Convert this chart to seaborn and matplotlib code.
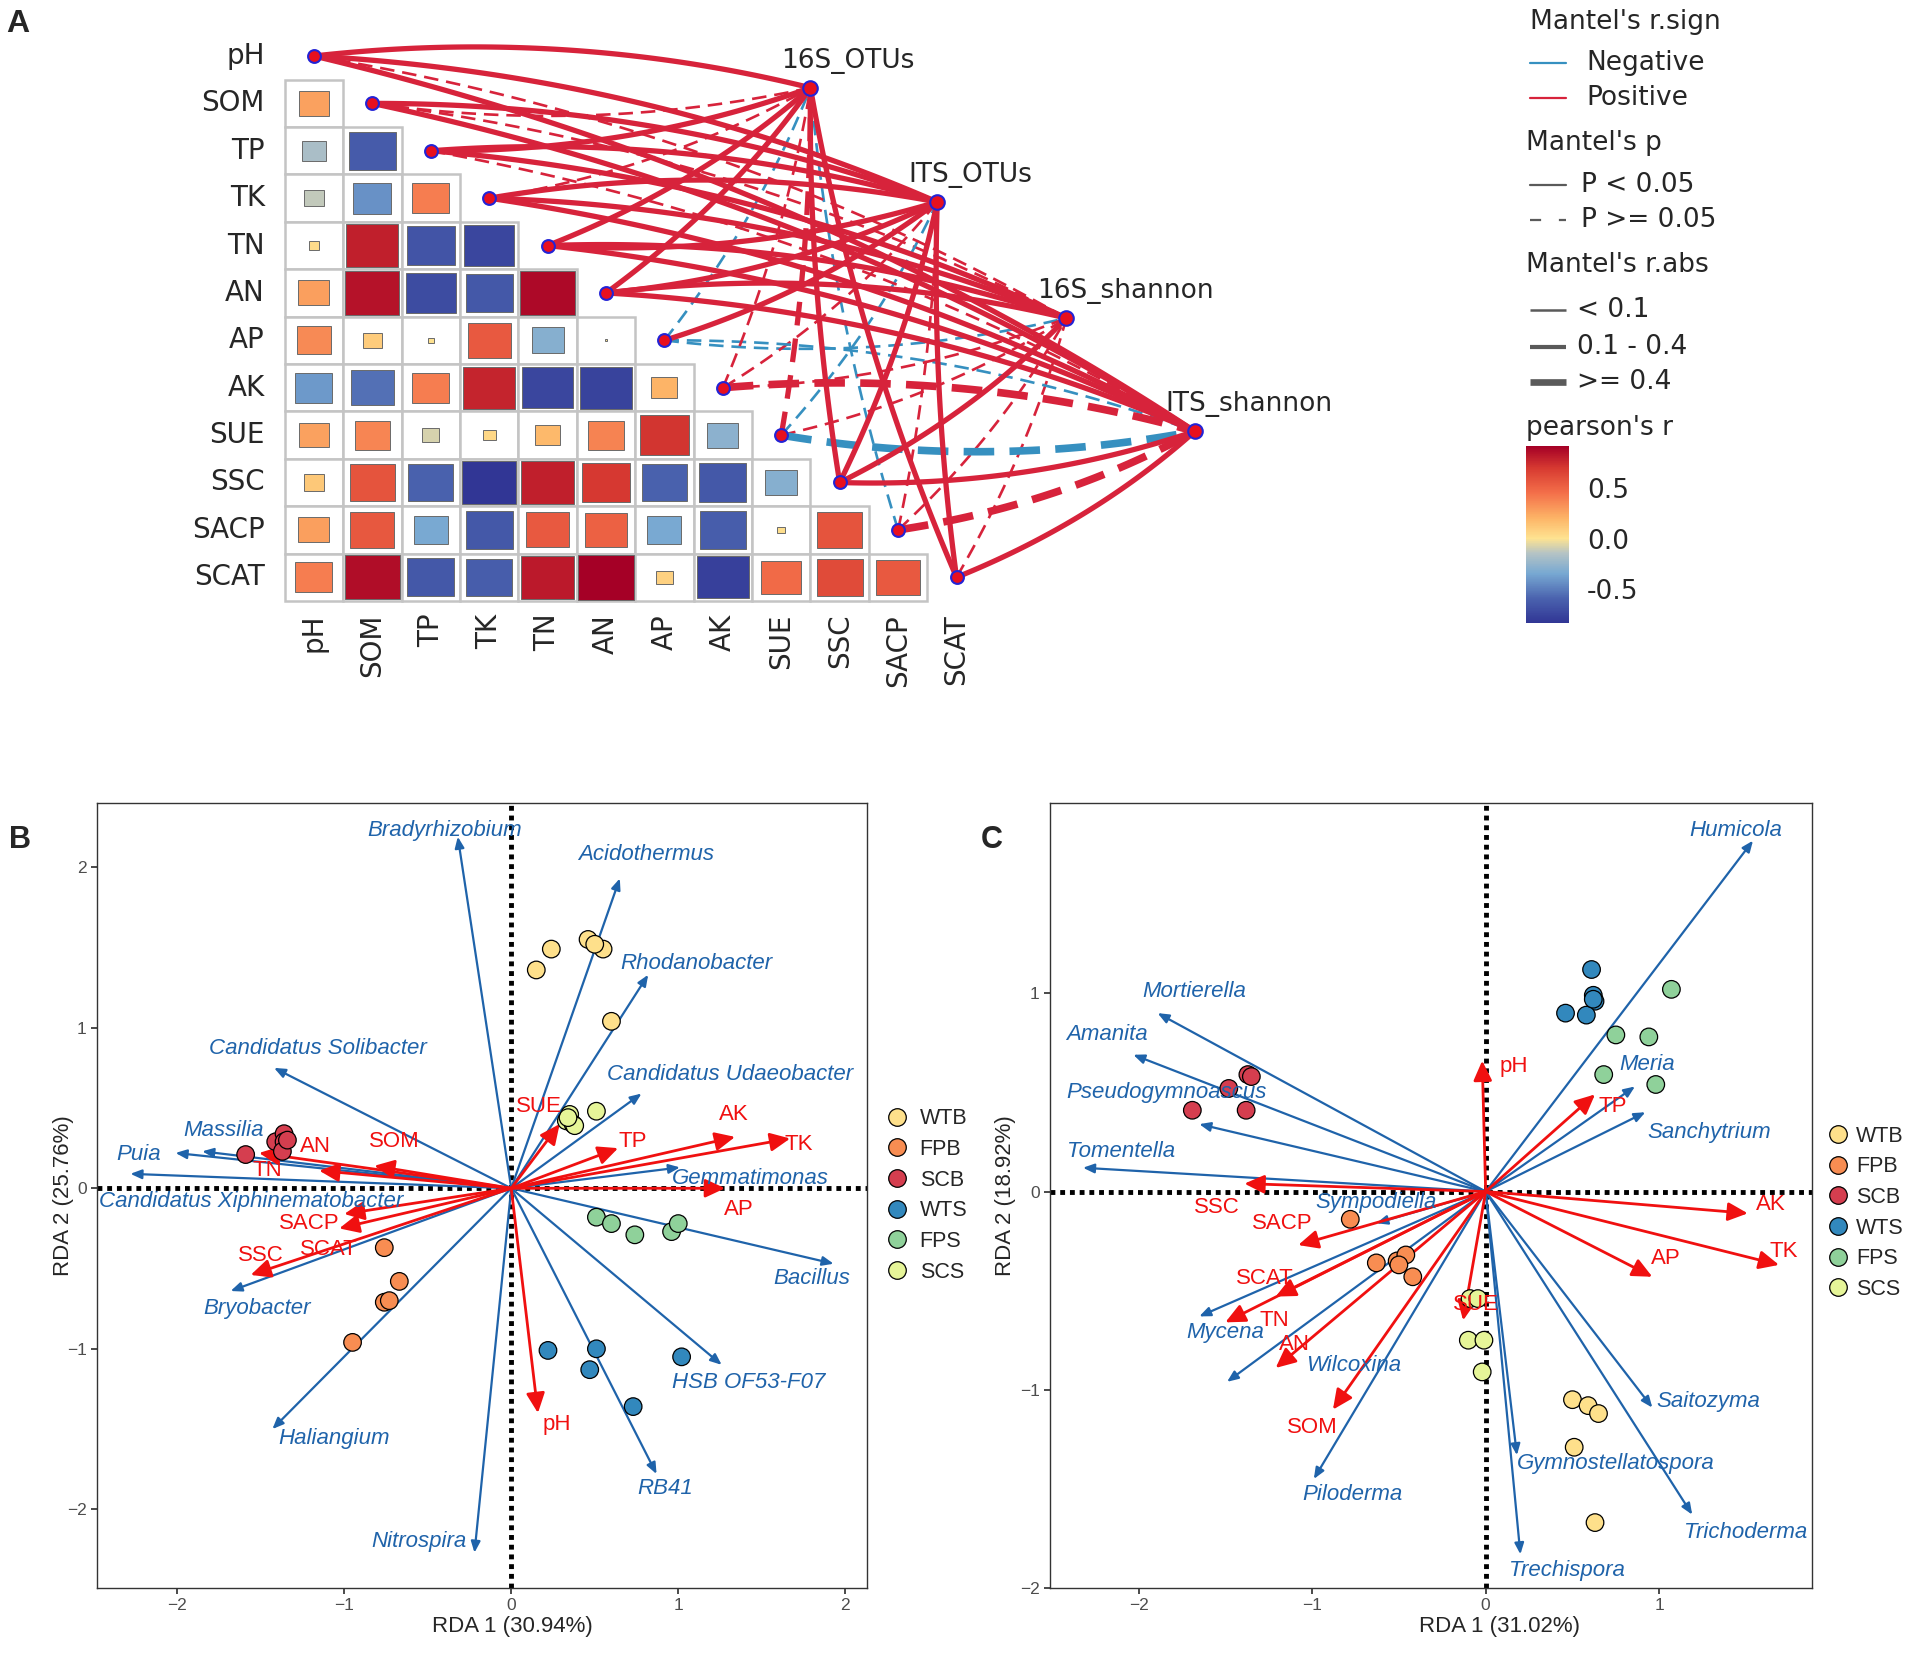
import numpy as np
import pandas as pd
import matplotlib
matplotlib.use("Agg")
import matplotlib.pyplot as plt
import seaborn as sns
from matplotlib.patches import Rectangle
from matplotlib.colors import LinearSegmentedColormap, Normalize
from matplotlib.cm import ScalarMappable

# ---------------- panel A data ----------------
env_vars = ['pH', 'SOM', 'TP', 'TK', 'TN', 'AN', 'AP', 'AK', 'SUE', 'SSC', 'SACP', 'SCAT']

# pearson's r, lower triangle: each row vs the variables before it
r_SOM = [0.27]
r_TP = [-0.18, -0.64]
r_TK = [-0.12, -0.43, 0.40]
r_TN = [0.03, 0.80, -0.67, -0.75]
r_AN = [0.28, 0.85, -0.72, -0.65, 0.88]
r_AP = [0.35, 0.10, 0.01, 0.55, -0.30, 0.002]
r_AK = [-0.40, -0.55, 0.40, 0.78, -0.75, -0.77, 0.20]
r_SUE = [0.27, 0.37, -0.08, 0.05, 0.18, 0.38, 0.72, -0.28]
r_SSC = [0.12, 0.58, -0.60, -0.84, 0.80, 0.70, -0.60, -0.65, -0.30]
r_SACP = [0.28, 0.56, -0.34, -0.65, 0.55, 0.52, -0.34, -0.62, 0.02, 0.58]
r_SCAT = [0.40, 0.87, -0.65, -0.62, 0.82, 0.92, 0.08, -0.78, 0.48, 0.62, 0.55]
pearson_rows = [[], r_SOM, r_TP, r_TK, r_TN, r_AN, r_AP, r_AK, r_SUE, r_SSC, r_SACP, r_SCAT]

targets = ['16S_OTUs', 'ITS_OTUs', '16S_shannon', 'ITS_shannon']
# mantel r (signed) and p of each env variable against each target
mantel_r_16S_OTUs = [0.32, 0.07, 0.28, 0.06, 0.31, 0.30, -0.05, 0.08, 0.15, 0.35, -0.04, 0.27]
mantel_p_16S_OTUs = [0.01, 0.18, 0.01, 0.27, 0.01, 0.01, 0.41, 0.20, 0.09, 0.01, 0.50, 0.02]
mantel_r_ITS_OTUs = [0.30, 0.29, 0.27, 0.25, 0.33, 0.32, 0.22, 0.07, -0.06, 0.34, 0.08, 0.31]
mantel_p_ITS_OTUs = [0.01, 0.01, 0.01, 0.02, 0.01, 0.01, 0.03, 0.24, 0.38, 0.01, 0.21, 0.01]
mantel_r_16S_shannon = [0.07, 0.05, 0.24, 0.26, 0.28, 0.29, -0.06, 0.08, 0.05, 0.25, 0.06, 0.07]
mantel_p_16S_shannon = [0.22, 0.35, 0.04, 0.03, 0.01, 0.01, 0.36, 0.19, 0.40, 0.02, 0.33, 0.26]
mantel_r_ITS_shannon = [0.29, 0.31, 0.06, 0.28, 0.34, 0.33, -0.07, 0.42, -0.44, 0.30, 0.41, 0.32]
mantel_p_ITS_shannon = [0.01, 0.01, 0.31, 0.02, 0.01, 0.01, 0.29, 0.07, 0.08, 0.01, 0.09, 0.01]
mantel_r = [mantel_r_16S_OTUs, mantel_r_ITS_OTUs, mantel_r_16S_shannon, mantel_r_ITS_shannon]
mantel_p = [mantel_p_16S_OTUs, mantel_p_ITS_OTUs, mantel_p_16S_shannon, mantel_p_ITS_shannon]

# ---------------- panel B data (bacteria RDA) ----------------
groups = ['WTB', 'FPB', 'SCB', 'WTS', 'FPS', 'SCS']
b_WTB = [(0.15, 1.36), (0.24, 1.49), (0.46, 1.55), (0.55, 1.49), (0.60, 1.04), (0.50, 1.52)]
b_FPB = [(-0.76, -0.37), (-0.67, -0.58), (-0.76, -0.71), (-0.73, -0.70), (-0.95, -0.96)]
b_SCB = [(-1.59, 0.21), (-1.41, 0.29), (-1.36, 0.34), (-1.36, 0.29), (-1.37, 0.23), (-1.34, 0.30)]
b_WTS = [(0.22, -1.01), (0.51, -1.00), (0.47, -1.13), (0.73, -1.36), (1.02, -1.05)]
b_FPS = [(0.51, -0.18), (0.60, -0.22), (0.74, -0.29), (0.96, -0.27), (1.00, -0.22)]
b_SCS = [(0.35, 0.46), (0.33, 0.42), (0.37, 0.40), (0.38, 0.39), (0.51, 0.48), (0.34, 0.44)]

b_species = ['Bradyrhizobium', 'Acidothermus', 'Rhodanobacter', 'Candidatus Solibacter',
             'Candidatus Udaeobacter', 'Massilia', 'Puia', 'Candidatus Xiphinematobacter',
             'Gemmatimonas', 'Bacillus', 'Bryobacter', 'HSB OF53-F07', 'Haliangium', 'RB41',
             'Nitrospira']
b_sp_x = [-0.32, 0.65, 0.82, -1.42, 0.78, -1.85, -2.01, -2.28, 1.01, 1.93, -1.68, 1.26, -1.43, 0.87, -0.22]
b_sp_y = [2.19, 1.93, 1.33, 0.75, 0.59, 0.23, 0.22, 0.09, 0.13, -0.47, -0.64, -1.10, -1.50, -1.78, -2.27]
b_env_x = [0.16, -0.82, 0.64, 1.67, -1.51, -1.15, 1.28, 1.34, 0.29, -1.56, -1.00, -1.03]
b_env_y = [-1.40, 0.14, 0.25, 0.31, 0.22, 0.11, 0.00, 0.32, 0.40, -0.54, -0.16, -0.25]

# ---------------- panel C data (fungi RDA) ----------------
c_WTB = [(0.50, -1.05), (0.59, -1.08), (0.65, -1.12), (0.51, -1.29), (0.63, -1.67)]
c_FPB = [(-0.78, -0.14), (-0.63, -0.36), (-0.51, -0.35), (-0.46, -0.32), (-0.42, -0.43), (-0.50, -0.37)]
c_SCB = [(-1.37, 0.59), (-1.35, 0.58), (-1.48, 0.52), (-1.69, 0.41), (-1.38, 0.41)]
c_WTS = [(0.61, 1.12), (0.62, 0.99), (0.63, 0.96), (0.46, 0.90), (0.58, 0.89), (0.62, 0.97)]
c_FPS = [(1.07, 1.02), (0.75, 0.79), (0.94, 0.78), (0.68, 0.59), (0.98, 0.54)]
c_SCS = [(-0.09, -0.54), (-0.045, -0.54), (-0.10, -0.75), (-0.01, -0.75), (-0.02, -0.91)]

c_species = ['Humicola', 'Mortierella', 'Amanita', 'Pseudogymnoascus', 'Tomentella', 'Meria',
             'Sanchytrium', 'Sympodiella', 'Mycena', 'Wilcoxina', 'Piloderma', 'Saitozyma',
             'Gymnostellatospora', 'Trichoderma', 'Trechispora']
c_sp_x = [1.54, -1.89, -2.03, -1.65, -2.32, 0.86, 0.92, -0.63, -1.65, -1.49, -0.99, 0.96, 0.18, 1.19, 0.20]
c_sp_y = [1.77, 0.90, 0.69, 0.34, 0.12, 0.53, 0.40, -0.16, -0.63, -0.96, -1.45, -1.09, -1.33, -1.63, -1.83]
c_env_x = [-0.02, -0.88, 0.63, 1.69, -1.50, -1.21, 0.96, 1.51, -0.13, -1.39, -1.08, -1.21]
c_env_y = [0.66, -1.10, 0.49, -0.37, -0.66, -0.89, -0.43, -0.11, -0.65, 0.04, -0.27, -0.53]

# label placement (layout only)
b_sp_lab = [(-0.40, 2.23), (0.81, 2.08), (1.11, 1.40), (-1.16, 0.87), (1.31, 0.71), (-1.72, 0.36),
            (-2.23, 0.21), (-1.56, -0.08), (1.43, 0.06), (1.80, -0.56), (-1.52, -0.75), (1.42, -1.21),
            (-1.06, -1.56), (0.92, -1.87), (-0.55, -2.20)]
b_env_lab = [(0.27, -1.47), (-0.70, 0.29), (0.73, 0.29), (1.72, 0.27), (-1.46, 0.11), (-1.17, 0.26),
             (1.36, -0.13), (1.33, 0.46), (0.165, 0.51), (-1.50, -0.42), (-1.21, -0.22), (-1.09, -0.38)]
c_sp_lab = [(1.44, 1.82), (-1.68, 1.01), (-2.18, 0.79), (-1.84, 0.50), (-2.10, 0.20), (0.93, 0.64),
            (1.29, 0.30), (-0.63, -0.055), (-1.50, -0.71), (-0.76, -0.88), (-0.77, -1.53), (1.28, -1.06),
            (0.75, -1.37), (1.50, -1.72), (0.47, -1.91)]
c_env_lab = [(0.16, 0.63), (-1.00, -1.19), (0.73, 0.43), (1.72, -0.30), (-1.22, -0.65), (-1.10, -0.77),
             (1.04, -0.34), (1.64, -0.066), (-0.056, -0.57), (-1.55, -0.083), (-1.17, -0.16), (-1.27, -0.44)]

group_colors = {'WTB': '#FEE08B', 'FPB': '#F88D52', 'SCB': '#D53E4F',
                'WTS': '#3288BD', 'FPS': '#8FD19A', 'SCS': '#E6F598'}
RED_LINK = '#D7233B'
BLUE_LINK = '#3690C0'
SP_BLUE = '#1F63AA'
ENV_RED = '#F01010'
WIDE = 'DejaVu Sans'

W, H = 1907, 1654
sns.set_theme(style='white')
plt.rcParams['font.family'] = ['Liberation Sans', 'DejaVu Sans']

fig = plt.figure(figsize=(W / 100, H / 100), dpi=100)

# ---------------- panel A ----------------
ax_a = fig.add_axes([200 / W, 1 - 700 / H, 1100 / W, 680 / H])

vmin, vmax = -0.84, 0.92
stops = [-0.84, -0.6, -0.35, -0.15, 0.0, 0.2, 0.45, 0.7, 0.92]
stop_cols = ['#313695', '#4A62AE', '#77A8D2', '#B4C3C5', '#FEE391', '#FDB567', '#F4704A', '#D73A31', '#A50026']
cmap = LinearSegmentedColormap.from_list(
    'pearson', [((v - vmin) / (vmax - vmin), c) for v, c in zip(stops, stop_cols)])
norm = Normalize(vmin, vmax)

target_x = [8.5, 10.67, 12.88, 15.08]
target_y = [0.67, 3.08, 5.53, 7.92]


def curve_points(x0, y0, x1, y1, n=80):
    dx, dy = x1 - x0, y1 - y0
    L = np.hypot(dx, dy)
    nx, ny = -dy / L, dx / L
    # bow up when the variable sits above the target, down otherwise
    if (ny < 0) != (y0 < y1):
        nx, ny = -nx, -ny
    curv = 0.03 + 0.08 * abs(dx) / L
    cx = (x0 + x1) / 2 + curv * L * nx
    cy = (y0 + y1) / 2 + curv * L * ny
    t = np.linspace(0, 1, n)
    bx = (1 - t) ** 2 * x0 + 2 * (1 - t) * t * cx + t ** 2 * x1
    by = (1 - t) ** 2 * y0 + 2 * (1 - t) * t * cy + t ** 2 * y1
    return bx, by


def link_style(r, solid):
    a = abs(r)
    if a < 0.1:
        lw, dash = 1.9, (0, (5.5, 3))
    elif a < 0.4:
        lw, dash = 3.8, (0, (4.5, 2.5))
    else:
        lw, dash = 5.5, (0, (4, 2))
    return lw, ('-' if solid else dash)


# draw the weak / dashed ones first so the strong links sit on top
links = []
for k in range(len(targets)):
    for i, var in enumerate(env_vars):
        links.append((mantel_p[k][i] < 0.05, abs(mantel_r[k][i]), k, i))
links.sort()
for solid, _, k, i in links:
    r = mantel_r[k][i]
    bx, by = curve_points(i, i, target_x[k], target_y[k])
    lw, ls = link_style(r, solid)
    ax_a.plot(bx, by, color=RED_LINK if r > 0 else BLUE_LINK, lw=lw, ls=ls,
              solid_capstyle='butt', zorder=1)

for i, row in enumerate(pearson_rows):
    for j, r in enumerate(row):
        ax_a.add_patch(Rectangle((j - 0.5, i - 0.5), 1, 1, facecolor='white',
                                 edgecolor='#C4C4C4', lw=1.8, zorder=2))
        s = np.sqrt(abs(r))
        ax_a.add_patch(Rectangle((j - s / 2, i - s / 2), s, s, facecolor=cmap(norm(r)),
                                 edgecolor='#6A6A6A', lw=0.7, zorder=3))

for i, var in enumerate(env_vars):
    ax_a.text(-0.84, i, var, ha='right', va='center', fontsize=20, family=WIDE)
    ax_a.text(i, 11.77, var, ha='center', va='top', rotation=90, fontsize=20, family=WIDE)

diag = pd.DataFrame({'x': np.arange(len(env_vars)), 'y': np.arange(len(env_vars))})
sns.scatterplot(data=diag, x='x', y='y', ax=ax_a, s=85, color='#E8101E', edgecolor='#2323D6',
                linewidth=1.5, zorder=5, legend=False)
tgt = pd.DataFrame({'x': target_x, 'y': target_y})
sns.scatterplot(data=tgt, x='x', y='y', ax=ax_a, s=110, color='#E8101E', edgecolor='#2323D6',
                linewidth=1.5, zorder=5, legend=False)
for name, tx, ty in zip(targets, target_x, target_y):
    ax_a.text(tx - 0.5, ty - 0.3, name, ha='left', va='bottom', fontsize=19, family=WIDE)
ax_a.set_xlim(-1.95, 16.88)
ax_a.set_ylim(13.59, -0.76)
ax_a.axis('off')

# ---------------- panel A legends ----------------
leg = fig.add_axes([1490 / W, 1 - 440 / H, 410 / W, 430 / H])
leg.set_xlim(1490, 1900)
leg.set_ylim(440, 10)
leg.axis('off')
fs = 19
lx0, lx1 = 1530, 1566
leg.text(1530, 22, "Mantel's r.sign", fontsize=fs, va='center', family=WIDE)
leg.plot([lx0, lx1], [63, 63], color=BLUE_LINK, lw=1.6)
leg.text(1586, 63, 'Negative', fontsize=fs, va='center', family=WIDE)
leg.plot([lx0, lx1], [98, 98], color=RED_LINK, lw=1.6)
leg.text(1586, 98, 'Positive', fontsize=fs, va='center', family=WIDE)
leg.text(1526, 143, "Mantel's p", fontsize=fs, va='center', family=WIDE)
leg.plot([lx0, lx1], [185, 185], color='#5A5A5A', lw=1.6)
leg.text(1581, 185, 'P < 0.05', fontsize=fs, va='center', family=WIDE)
leg.plot([lx0, lx1], [220, 220], color='#5A5A5A', lw=1.6, ls=(0, (5, 8)))
leg.text(1581, 220, 'P >= 0.05', fontsize=fs, va='center', family=WIDE)
leg.text(1526, 265, "Mantel's r.abs", fontsize=fs, va='center', family=WIDE)
for yy, lw, lab in [(310, 1.8, '< 0.1'), (347, 3.0, '0.1 - 0.4'), (382, 4.8, '>= 0.4')]:
    leg.plot([lx0, lx1], [yy, yy], color='#5A5A5A', lw=lw, solid_capstyle='butt')
    leg.text(1577, yy, lab, fontsize=fs, va='center', family=WIDE)
leg.text(1526, 428, "pearson's r", fontsize=fs, va='center', family=WIDE)

cax = fig.add_axes([1526 / W, 1 - 623 / H, 43 / W, 177 / H])
cb = fig.colorbar(ScalarMappable(norm=norm, cmap=cmap), cax=cax, ticks=[-0.5, 0.0, 0.5])
cb.outline.set_visible(False)
cb.ax.set_yticklabels(['-0.5', '0.0', '0.5'], family=WIDE)
cax.tick_params(axis='y', which='both', direction='in', length=6, width=1.2, color='white',
                left=True, right=True, labelsize=fs, pad=13)

fig.text(6 / W, 1 - 24 / H, 'A', fontsize=23, fontweight='bold', ha='left', va='center')


# ---------------- panels B and C ----------------
def samples_frame(group_points):
    rows = []
    for g, pts in zip(groups, group_points):
        for x, y in pts:
            rows.append({'RDA1': x, 'RDA2': y, 'group': g})
    return pd.DataFrame(rows)


def rda_panel(ax, df, sp_names, sp_x, sp_y, sp_lab, env_x, env_y, env_lab,
              xlim, ylim, xticks, yticks, xlabel, ylabel, leg_y, handlelen,
              xlab_pos, ylab_x):
    ax.axhline(0, color='black', lw=3.5, ls=(0, (1, 1)), zorder=1)
    ax.axvline(0, color='black', lw=3.5, ls=(0, (1, 1)), zorder=1)
    for x, y in zip(sp_x, sp_y):
        ax.annotate('', xy=(x, y), xytext=(0, 0), zorder=2,
                    arrowprops=dict(arrowstyle='-|>,head_length=0.6,head_width=0.25',
                                    mutation_scale=11, color=SP_BLUE, lw=1.6,
                                    shrinkA=0, shrinkB=0))
    for x, y in zip(env_x, env_y):
        ax.annotate('', xy=(x, y), xytext=(0, 0), zorder=3,
                    arrowprops=dict(arrowstyle='-|>,head_length=0.6,head_width=0.28',
                                    mutation_scale=20, color=ENV_RED, lw=2.0,
                                    shrinkA=0, shrinkB=0))
    sns.scatterplot(data=df, x='RDA1', y='RDA2', hue='group', hue_order=groups,
                    palette=group_colors, s=160, edgecolor='black', linewidth=0.9,
                    ax=ax, zorder=4)
    for name, (lx, ly) in zip(sp_names, sp_lab):
        ax.text(lx, ly, name, color=SP_BLUE, fontsize=16, style='italic',
                ha='center', va='center', zorder=6)
    for name, (lx, ly) in zip(env_vars, env_lab):
        ax.text(lx, ly, name, color=ENV_RED, fontsize=16, ha='center', va='center', zorder=6)
    ax.set_xlim(*xlim)
    ax.set_ylim(*ylim)
    ax.set_xticks(xticks)
    ax.set_yticks(yticks)
    ax.set_xlabel(xlabel, fontsize=16)
    ax.set_ylabel(ylabel, fontsize=16)
    ax.xaxis.set_label_coords(xlab_pos, -0.036)
    ax.yaxis.set_label_coords(ylab_x, 0.5)
    ax.tick_params(axis='both', labelsize=12.5, labelcolor='#4D4D4D', length=4,
                   color='#333333', direction='out', bottom=True, left=True)
    for sp in ax.spines.values():
        sp.set_color('#333333')
        sp.set_linewidth(1.0)
    sns.move_legend(ax, 'center left', bbox_to_anchor=(1.0, leg_y), title=None,
                    frameon=False, fontsize=15.5, handletextpad=0.05, labelspacing=0.45,
                    borderaxespad=0, handlelength=handlelen)


ax_b = fig.add_axes([97 / W, 1 - 1588 / H, 770 / W, 785 / H])
rda_panel(ax_b, samples_frame([b_WTB, b_FPB, b_SCB, b_WTS, b_FPS, b_SCS]),
          b_species, b_sp_x, b_sp_y, b_sp_lab, b_env_x, b_env_y, b_env_lab,
          (-2.48, 2.13), (-2.49, 2.40), [-2, -1, 0, 1, 2], [-2, -1, 0, 1, 2],
          'RDA 1 (30.94%)', 'RDA 2 (25.76%)', 0.50, 2.0, 0.54, -0.03)

ax_c = fig.add_axes([1050 / W, 1 - 1588 / H, 762 / W, 785 / H])
rda_panel(ax_c, samples_frame([c_WTB, c_FPB, c_SCB, c_WTS, c_FPS, c_SCS]),
          c_species, c_sp_x, c_sp_y, c_sp_lab, c_env_x, c_env_y, c_env_lab,
          (-2.51, 1.88), (-2.0, 1.96), [-2, -1, 0, 1], [-2, -1, 0, 1],
          'RDA 1 (31.02%)', 'RDA 2 (18.92%)', 0.478, 1.6, 0.59, -0.045)

fig.text(9 / W, 1 - 840 / H, 'B', fontsize=22, fontweight='bold', ha='left', va='center')
fig.text(981 / W, 1 - 840 / H, 'C', fontsize=22, fontweight='bold', ha='left', va='center')

fig.savefig('out.png', dpi=100, facecolor='white')
